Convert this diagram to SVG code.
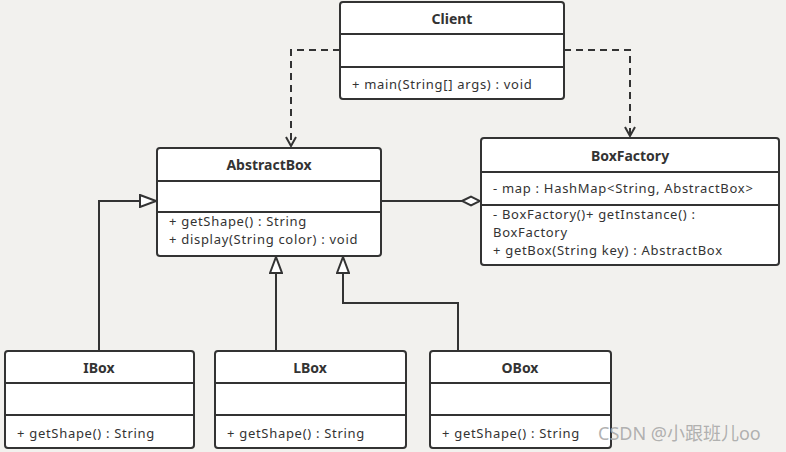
<svg xmlns="http://www.w3.org/2000/svg" width="786" height="452" viewBox="0 0 786 452">
<defs>
<style>
.box{fill:#fff;stroke:#333;stroke-width:2}
.div{stroke:#333;stroke-width:2}
.t{font-family:"Noto Sans","Open Sans",sans-serif;font-size:13px;letter-spacing:0.7px;fill:#333}
.h{font-family:"Noto Sans","Open Sans",sans-serif;font-size:14px;font-weight:bold;fill:#333;text-anchor:middle}
.ln{fill:none;stroke:#333;stroke-width:2}
.dash{fill:none;stroke:#333;stroke-width:2;stroke-dasharray:7,5}
</style>
<marker id="open" viewBox="0 0 12 12" refX="11" refY="6" markerWidth="12" markerHeight="12" markerUnits="userSpaceOnUse" orient="auto">
<path d="M2,1 L11,6 L2,11" fill="none" stroke="#333" stroke-width="2"/>
</marker>
<marker id="tri" viewBox="0 0 18 14" refX="17" refY="7" markerWidth="18" markerHeight="14" markerUnits="userSpaceOnUse" orient="auto">
<path d="M1,1 L17,7 L1,13 Z" fill="#fff" stroke="#333" stroke-width="2"/>
</marker>
<marker id="dia" viewBox="0 0 20 12" refX="19" refY="6" markerWidth="20" markerHeight="12" markerUnits="userSpaceOnUse" orient="auto">
<path d="M1,6 L10,1.5 L19,6 L10,10.5 Z" fill="#fff" stroke="#333" stroke-width="2"/>
</marker>
</defs>
<rect width="786" height="452" fill="#f2f1ee"/>
<g id="connectors">
<path class="dash" d="M340,50 H291 V146" marker-end="url(#open)"/>
<path class="dash" d="M564,50 H630 V136" marker-end="url(#open)"/>
<path class="ln" d="M381,201 H480" marker-end="url(#dia)"/>
<path class="ln" d="M99,351 V201 H156" marker-end="url(#tri)"/>
<path class="ln" d="M276,351 V257" marker-end="url(#tri)"/>
<path class="ln" d="M458,351 V303 H343 V257" marker-end="url(#tri)"/>
</g>
<g id="client">
<rect class="box" x="340" y="2" width="224" height="97" rx="3"/>
<line class="div" x1="340" y1="34" x2="564" y2="34"/>
<line class="div" x1="340" y1="67" x2="564" y2="67"/>
<text class="h" x="452" y="24">Client</text>
<text class="t" x="352" y="89">+ main(String[] args) : void</text>
</g>
<g id="abstractbox">
<rect class="box" x="157" y="148" width="224" height="108" rx="3"/>
<line class="div" x1="157" y1="181" x2="381" y2="181"/>
<line class="div" x1="157" y1="212" x2="381" y2="212"/>
<text class="h" x="269" y="170">AbstractBox</text>
<text class="t" x="169" y="226">+ getShape() : String</text>
<text class="t" x="169" y="244">+ display(String color) : void</text>
</g>
<g id="boxfactory">
<rect class="box" x="481" y="138" width="298" height="127" rx="3"/>
<line class="div" x1="481" y1="172" x2="779" y2="172"/>
<line class="div" x1="481" y1="205" x2="779" y2="205"/>
<text class="h" x="630" y="161">BoxFactory</text>
<text class="t" x="493" y="193">- map : HashMap&lt;String, AbstractBox&gt;</text>
<text class="t" x="493" y="219">- BoxFactory()+ getInstance() :</text>
<text class="t" x="493" y="237">BoxFactory</text>
<text class="t" x="493" y="255">+ getBox(String key) : AbstractBox</text>
</g>
<g id="ibox">
<rect class="box" x="5" y="351" width="189" height="97" rx="3"/>
<line class="div" x1="5" y1="383" x2="194" y2="383"/>
<line class="div" x1="5" y1="415" x2="194" y2="415"/>
<text class="h" x="99" y="373">IBox</text>
<text class="t" x="17" y="438">+ getShape() : String</text>
</g>
<g id="lbox">
<rect class="box" x="215" y="351" width="191" height="97" rx="3"/>
<line class="div" x1="215" y1="383" x2="406" y2="383"/>
<line class="div" x1="215" y1="415" x2="406" y2="415"/>
<text class="h" x="310" y="373">LBox</text>
<text class="t" x="227" y="438">+ getShape() : String</text>
</g>
<g id="obox">
<rect class="box" x="430" y="351" width="181" height="97" rx="3"/>
<line class="div" x1="430" y1="383" x2="611" y2="383"/>
<line class="div" x1="430" y1="415" x2="611" y2="415"/>
<text class="h" x="520" y="373">OBox</text>
<text class="t" x="442" y="438">+ getShape() : String</text>
</g>
<text x="598" y="440" style="font-family:'Noto Sans','Noto Sans CJK SC',sans-serif;font-size:18px;fill:#a8a8a8;fill-opacity:0.9">CSDN @小跟班儿oo</text>
</svg>
